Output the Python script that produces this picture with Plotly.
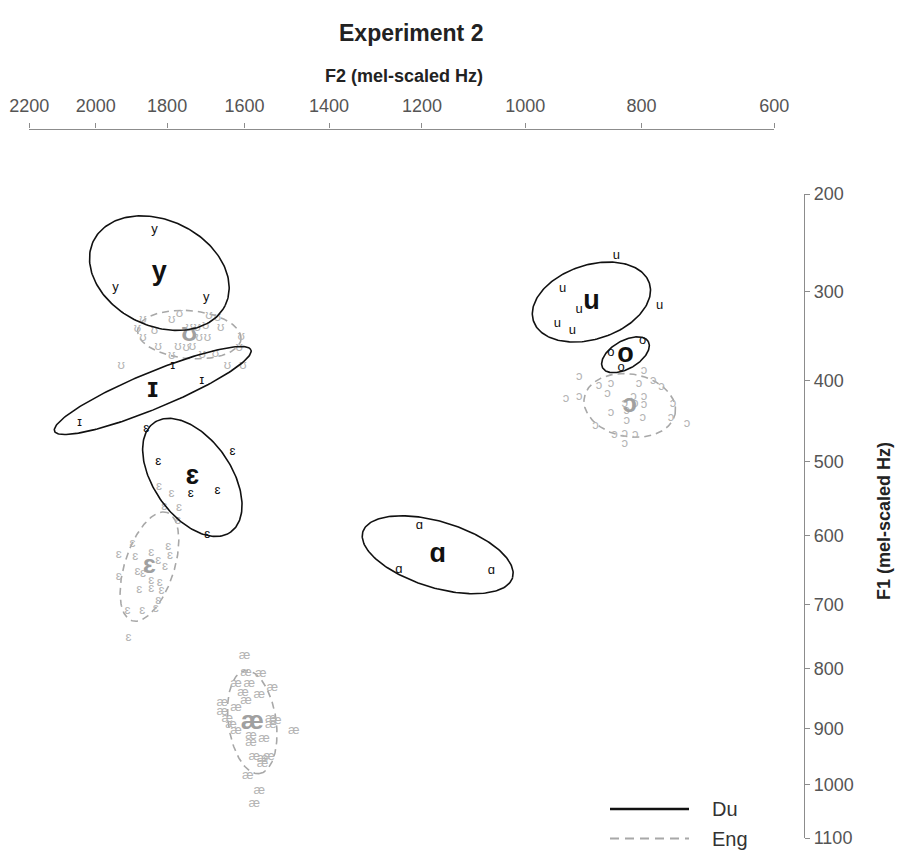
import numpy as np
import plotly.graph_objects as go

# ---------------- data (values in the axis units shown on the chart) ----------------
F2_TICKS = [2200, 2000, 1800, 1600, 1400, 1200, 1000, 800, 600]
F1_TICKS = [200, 300, 400, 500, 600, 700, 800, 900, 1000, 1100]

# Dutch (Du) vowel means and ellipse parameters (semi-axes in mel units, angle in degrees)
du_vowels = ["y", "ɪ", "ɛ", "u", "o", "ɑ"]
du_mean_f2 = [1821, 1839, 1733, 883, 826, 1168]
du_mean_f1 = [280, 412, 521, 311, 370, 627]
du_ell_a = [89, 129, 81, 74, 32, 95]
du_ell_b = [64, 22, 47, 45, 17, 40]
du_ell_ang = [-26, 22.5, -55, 18, 30, -17]

# Dutch tokens
du_y_f2 = [1834, 1943, 1697]
du_y_f1 = [235, 296, 306]
du_I_f2 = [2047, 1785, 1708]
du_I_f1 = [451, 383, 400]
du_E_f2 = [1857, 1630, 1824, 1737, 1668, 1694]
du_E_f1 = [459, 488, 500, 543, 539, 599]
du_u_f2 = [841, 933, 904, 771, 942, 916]
du_u_f1 = [262, 297, 319, 315, 335, 343]
du_o_f2 = [850, 798, 833]
du_o_f1 = [368, 354, 385]
du_A_f2 = [1205, 1248, 1063]
du_A_f1 = [586, 648, 650]

# English (Eng) vowel means and ellipse parameters
en_vowels = ["ʊ", "ɛ", "æ", "ɔ"]
en_mean_f2 = [1741, 1848, 1581, 819]
en_mean_f1 = [347, 644, 889, 430]
en_ell_a = [63, 69, 63, 56]
en_ell_b = [29, 30, 29, 38]
en_ell_ang = [-5, 72, -82, -10]

# English tokens
en_U_f2 = [1866, 1788, 1767, 1690, 1668, 1881, 1834, 1741, 1720, 1698, 1660, 1866, 1715,
           1694, 1608, 1824, 1771, 1749, 1733, 1788, 1707, 1673, 1613, 1927, 1643, 1604]
en_U_f1 = [330, 330, 324, 326, 328, 341, 343, 339, 339, 337, 339, 351, 351,
           351, 349, 361, 361, 362, 361, 371, 370, 369, 362, 383, 383, 383]
en_E_f2 = [1822, 1788, 1808, 1768, 1771, 1895, 1797, 1934, 1887, 1843, 1792, 1824, 1806,
           1881, 1866, 1934, 1843, 1820, 1876, 1843, 1815, 1824, 1909, 1868, 1831, 1906]
en_E_f1 = [533, 543, 560, 561, 579, 612, 615, 627, 630, 624, 628, 636, 644,
           651, 655, 659, 665, 667, 678, 677, 679, 694, 709, 709, 706, 751]
en_ae_f2 = [1600, 1596, 1560, 1621, 1588, 1532, 1604, 1564, 1656, 1596, 1621, 1656, 1643,
            1536, 1524, 1634, 1536, 1621, 1584, 1552, 1584, 1481, 1576, 1556, 1540, 1556,
            1592, 1564, 1576]
en_ae_f1 = [779, 806, 808, 825, 825, 831, 839, 842, 856, 853, 864, 872, 883,
            883, 886, 894, 894, 903, 912, 918, 924, 903, 950, 953, 950, 962,
            983, 1010, 1035]
en_O_f2 = [904, 870, 850, 796, 804, 781, 768, 927, 904, 856, 813, 796, 827, 810,
           796, 750, 850, 824, 798, 753, 728, 876, 824, 844, 827, 810, 827]
en_O_f1 = [396, 406, 404, 388, 404, 400, 408, 422, 420, 416, 419, 420, 428, 428,
           429, 428, 439, 437, 445, 445, 452, 455, 449, 466, 465, 466, 477]

du_tokens = [("y", du_y_f2, du_y_f1), ("ɪ", du_I_f2, du_I_f1), ("ɛ", du_E_f2, du_E_f1),
             ("u", du_u_f2, du_u_f1), ("o", du_o_f2, du_o_f1), ("ɑ", du_A_f2, du_A_f1)]
en_tokens = [("ʊ", en_U_f2, en_U_f1), ("ɛ", en_E_f2, en_E_f1),
             ("æ", en_ae_f2, en_ae_f1), ("ɔ", en_O_f2, en_O_f1)]

# ---------------- helpers ----------------
def mel(f):
    return 2595.0 * np.log10(1.0 + np.asarray(f, dtype=float) / 700.0)

def ellipse(cf2, cf1, a, b, ang):
    t = np.linspace(0, 2 * np.pi, 200)
    th = np.deg2rad(ang)
    u, v = a * np.cos(t), b * np.sin(t)
    xr = u * np.cos(th) - v * np.sin(th)   # screen right
    yu = u * np.sin(th) + v * np.cos(th)   # screen up
    return mel(cf2) - xr, mel(cf1) - yu     # both axes reversed

W, H = 902, 854
def px(x):
    return x / W
def py(y):
    return 1 - y / H

FONT = "Liberation Sans, Arial, DejaVu Sans, sans-serif"
GRAY_TOK = "#b4b4b4"
GRAY_ELL = "#a8a8a8"
GRAY_BIG = "#a0a0a0"
BLACK = "#111111"

fig = go.Figure()

# English (behind)
for i, v in enumerate(en_vowels):
    ex, ey = ellipse(en_mean_f2[i], en_mean_f1[i], en_ell_a[i], en_ell_b[i], en_ell_ang[i])
    fig.add_trace(go.Scatter(x=ex, y=ey, mode="lines",
                             line=dict(color=GRAY_ELL, width=1.6, dash="7px,5px"),
                             hoverinfo="skip"))
for lab, f2, f1 in en_tokens:
    fig.add_trace(go.Scatter(x=mel(f2), y=mel(f1), mode="text", text=[lab] * len(f2),
                             textposition="middle center",
                             textfont=dict(family=FONT, size=13, color=GRAY_TOK),
                             hoverinfo="skip"))
fig.add_trace(go.Scatter(x=mel(en_mean_f2), y=mel(en_mean_f1), mode="text", text=en_vowels,
                         textposition="middle center",
                         textfont=dict(family=FONT, size=26, color=GRAY_BIG, weight="bold"),
                         hoverinfo="skip"))

# Dutch (front)
for i, v in enumerate(du_vowels):
    ex, ey = ellipse(du_mean_f2[i], du_mean_f1[i], du_ell_a[i], du_ell_b[i], du_ell_ang[i])
    fig.add_trace(go.Scatter(x=ex, y=ey, mode="lines",
                             line=dict(color=BLACK, width=1.6),
                             hoverinfo="skip"))
for lab, f2, f1 in du_tokens:
    fig.add_trace(go.Scatter(x=mel(f2), y=mel(f1), mode="text", text=[lab] * len(f2),
                             textposition="middle center",
                             textfont=dict(family=FONT, size=13, color=BLACK),
                             hoverinfo="skip"))
fig.add_trace(go.Scatter(x=mel(du_mean_f2), y=mel(du_mean_f1), mode="text", text=du_vowels,
                         textposition="middle center",
                         textfont=dict(family=FONT, size=27, color=BLACK, weight="bold"),
                         hoverinfo="skip"))

AX_COL = "#8c8c8c"
TICK_FONT = dict(family=FONT, size=18, color="#555555")

fig.update_layout(
    width=W, height=H, margin=dict(l=0, r=0, t=0, b=0, autoexpand=False),
    paper_bgcolor="white", plot_bgcolor="white", showlegend=False,
    xaxis=dict(range=[float(mel(2200)), float(mel(600))], domain=[px(29.3), px(774.3)],
               tickvals=mel(F2_TICKS), ticktext=[str(t) for t in F2_TICKS],
               side="top", anchor="free", position=py(128.5),
               showline=True, linecolor=AX_COL, linewidth=1.2,
               ticks="outside", ticklen=5, tickcolor=AX_COL, tickwidth=1.2,
               ticklabelstandoff=4,
               showgrid=False, zeroline=False, tickfont=TICK_FONT, automargin=False),
    yaxis=dict(range=[float(mel(1100)), float(mel(200))], domain=[py(838), py(194)],
               tickvals=mel(F1_TICKS), ticktext=[str(t) for t in F1_TICKS],
               side="right", anchor="free", position=px(804),
               showline=True, linecolor=AX_COL, linewidth=1.2,
               ticks="outside", ticklen=5, tickcolor=AX_COL, tickwidth=1.2,
               showgrid=False, zeroline=False, tickfont=TICK_FONT, automargin=False),
)

ann = [
    dict(text="<b>Experiment 2</b>", x=px(411), y=py(33), font=dict(family=FONT, size=23, color="#222222")),
    dict(text="<b>F2 (mel-scaled Hz)</b>", x=px(404), y=py(76), font=dict(family=FONT, size=18, color="#222222")),
    dict(text="<b>F1 (mel-scaled Hz)</b>", x=px(884), y=py(521), textangle=-90,
         font=dict(family=FONT, size=18, color="#222222")),
    dict(text="Du", x=px(710), y=py(809), xanchor="left", font=dict(family=FONT, size=20, color="#333333")),
    dict(text="Eng", x=px(710), y=py(839), xanchor="left", font=dict(family=FONT, size=20, color="#333333")),
]
for a in ann:
    a.setdefault("xanchor", "center")
    fig.add_annotation(xref="paper", yref="paper", showarrow=False, yanchor="middle", **a)

fig.add_shape(type="line", xref="paper", yref="paper", x0=px(610), x1=px(689), y0=py(809), y1=py(809),
              line=dict(color="#111111", width=2.6))
fig.add_shape(type="line", xref="paper", yref="paper", x0=px(610), x1=px(689), y0=py(838.5), y1=py(838.5),
              line=dict(color="#a8a8a8", width=2.2, dash="9px,6px"))

fig.write_html("out.html", config={"displayModeBar": False},
               post_script="document.body.style.margin='0';document.body.style.overflow='hidden';")
